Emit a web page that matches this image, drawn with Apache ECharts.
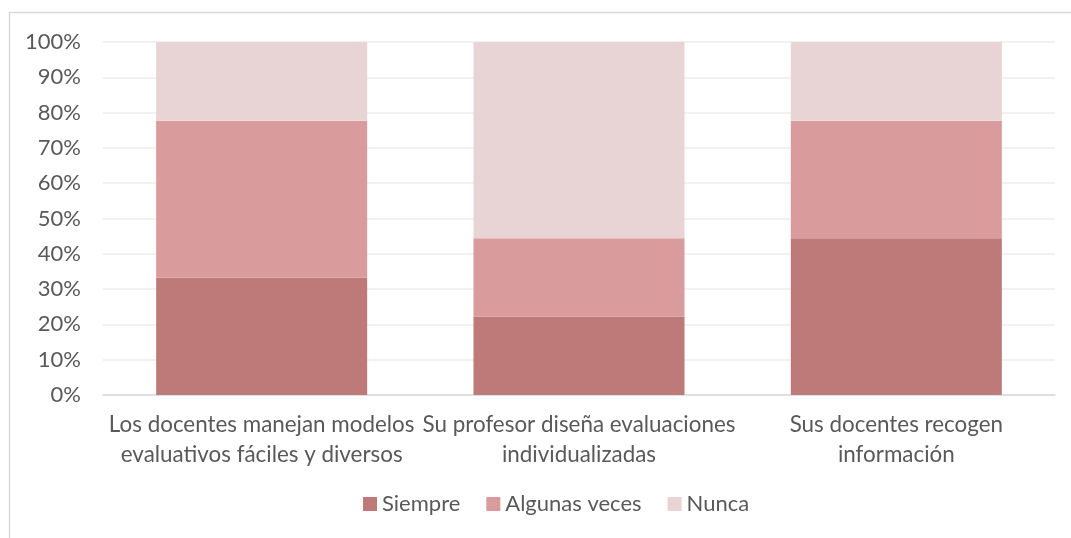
<!DOCTYPE html>
<html>
<head>
<meta charset="utf-8">
<script src="https://cdn.jsdelivr.net/npm/echarts@6/dist/echarts.min.js"></script>
<style>html,body{margin:0;padding:0;background:#fff;}#c{width:1071px;height:538px;}</style>
</head>
<body>
<div id="c"></div>
<script>
const categories = [
  'Los docentes manejan modelos\nevaluativos fáciles y diversos',
  'Su profesor diseña evaluaciones\nindividualizadas',
  'Sus docentes recogen\ninformación'
];
const seriesNames = ['Siempre', 'Algunas veces', 'Nunca'];
const siempre = [33.3, 22.2, 44.4];
const algunasVeces = [44.4, 22.2, 33.3];
const nunca = [22.3, 55.6, 22.3];
const yTicks = [0, 10, 20, 30, 40, 50, 60, 70, 80, 90, 100];

const colors = ['#BE7A79', '#D99B9B', '#E8D4D4'];
const font = 'Lato, "Open Sans", sans-serif';
const textColor = '#595959';

const chart = echarts.init(document.getElementById('c'), null, {renderer: 'canvas'});
const data = [siempre, algunasVeces, nunca];
chart.setOption({
  animation: false,
  backgroundColor: '#fff',
  graphic: [{
    type: 'rect',
    shape: {x: 9.5, y: 12.5, width: 1100, height: 600},
    style: {fill: 'none', stroke: '#D9D9D9', lineWidth: 1.5},
    silent: true
  }],
  grid: {left: 103, right: 16, top: 42, bottom: 143},
  legend: {
    data: seriesNames,
    bottom: 18,
    left: 358,
    itemWidth: 14,
    itemHeight: 14,
    itemGap: 26,
    icon: 'rect',
    textStyle: {fontFamily: font, fontSize: 22, color: textColor}
  },
  xAxis: {
    type: 'category',
    data: categories,
    axisLine: {lineStyle: {color: '#D9D9D9', width: 1.5}},
    axisTick: {show: false},
    axisLabel: {
      interval: 0, margin: 15, color: textColor, fontFamily: font, fontSize: 22.4, lineHeight: 30
    }
  },
  yAxis: {
    type: 'value',
    min: yTicks[0],
    max: yTicks[yTicks.length - 1],
    interval: yTicks[1] - yTicks[0],
    axisLine: {show: false},
    axisTick: {show: false},
    splitLine: {lineStyle: {color: '#EDEDED', width: 1.5}},
    axisLabel: {
      margin: 22, color: textColor, fontFamily: font, fontSize: 22,
      formatter: v => v + '%'
    }
  },
  series: seriesNames.map((name, i) => ({
    name: name,
    type: 'bar',
    stack: 'total',
    data: data[i],
    barWidth: '66.5%',
    itemStyle: {color: colors[i]},
    emphasis: {disabled: true}
  }))
});
</script>
</body>
</html>
